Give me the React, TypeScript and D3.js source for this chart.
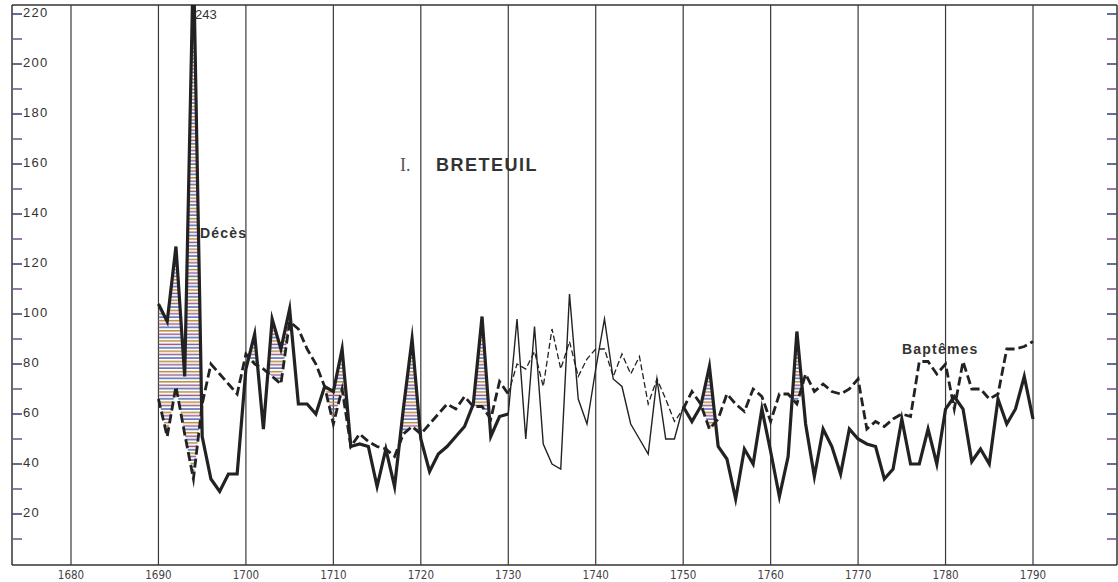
import React from 'react';
import * as d3 from 'd3';

// Breteuil: décès (deaths) and baptêmes (baptisms), 1690-1790
const years = d3.range(1690, 1791);

const deces = [
  104, 97, 127, 75, 243, 51, 34, 29, 36, 36,
  78, 92, 54, 98, 86, 102, 64, 64, 60, 71,
  69, 86, 47, 48, 47, 31, 46, 31, 62, 90,
  50, 37, 44, 47, 51, 55, 64, 99, 51, 59,
  60, 98, 50, 95, 48, 40, 38, 108, 66, 56,
  78, 98, 74, 71, 56, 50, 44, 74, 50, 50,
  63, 57, 63, 79, 47, 42, 26, 46, 40, 62,
  45, 27, 43, 93, 56, 35, 54, 47, 36, 54,
  50, 48, 47, 34, 38, 58, 40, 40, 54, 40,
  62, 67, 62, 41, 46, 40, 66, 56, 62, 75,
  58,
];

const baptemes = [
  66, 51, 71, 52, 34, 64, 80, 76, 72, 68,
  84, 80, 78, 75, 72, 97, 94, 86, 80, 71,
  56, 70, 47, 52, 49, 47, 46, 43, 52, 55,
  52, 56, 60, 64, 62, 67, 63, 63, 58, 73,
  68, 80, 78, 85, 71, 94, 78, 89, 75, 82,
  86, 86, 75, 84, 76, 83, 64, 74, 66, 57,
  62, 69, 64, 54, 58, 68, 64, 61, 70, 67,
  57, 68, 68, 64, 76, 69, 72, 69, 68, 70,
  74, 54, 57, 55, 58, 60, 59, 81, 81, 76,
  80, 62, 81, 70, 70, 66, 68, 86, 86, 87,
  89,
];

// years drawn with thin lines (gap in the registers)
const thinFrom = 1730;
const thinTo = 1750;

const decadeTicks = d3.range(1680, 1791, 10);
const valueTicks = d3.range(10, 221, 10);

const W = 1118;
const H = 582;
const frame = { left: 12, right: 1117, top: 5, bottom: 564 };

type Pt = { year: number; d: number; b: number };

const App = () => {
  const x = d3.scaleLinear().domain([1680, 1790]).range([71, 1033]);
  const y = d3.scaleLinear().domain([0, 220]).range([564, 14]);

  const pts: Pt[] = years.map((yr, i) => ({ year: yr, d: deces[i], b: baptemes[i] }));
  const before = pts.filter(p => p.year <= thinFrom);
  const middle = pts.filter(p => p.year >= thinFrom && p.year <= thinTo);
  const after = pts.filter(p => p.year >= thinTo);

  const lineD = d3.line<Pt>().x(p => x(p.year)).y(p => y(p.d));
  const lineB = d3.line<Pt>().x(p => x(p.year)).y(p => y(p.b));

  // area under deaths, clipped to the region above baptisms
  const areaD = d3.area<Pt>().x(p => x(p.year)).y0(y(0)).y1(p => y(p.d));
  const aboveB = d3.area<Pt>().x(p => x(p.year)).y0(frame.top - 50).y1(p => y(p.b));

  const ink = '#222';

  return (
    <svg width={W} height={H} style={{ position: 'absolute', left: 0, top: 0, background: '#fff' }}>
      <defs>
        <pattern id="hatch" patternUnits="userSpaceOnUse" width={8} height={10.2}>
          <line x1={0} x2={8} y1={1} y2={1} stroke="#4a6ab0" strokeWidth={1.5} />
          <line x1={0} x2={8} y1={4.4} y2={4.4} stroke="#b88a35" strokeWidth={1.5} />
          <line x1={0} x2={8} y1={7.8} y2={7.8} stroke="#9a5a8c" strokeWidth={1.5} />
        </pattern>
        <clipPath id="plot">
          <rect x={frame.left} y={frame.top} width={frame.right - frame.left} height={frame.bottom - frame.top} />
        </clipPath>
        <clipPath id="aboveB1">
          <path d={aboveB(before) ?? ''} />
        </clipPath>
        <clipPath id="aboveB2">
          <path d={aboveB(after) ?? ''} />
        </clipPath>
      </defs>

      {/* frame */}
      <line x1={frame.left} x2={frame.right} y1={frame.top} y2={frame.top} stroke="#333" strokeWidth={1.5} />
      <line x1={frame.left} x2={frame.right} y1={frame.bottom + 1} y2={frame.bottom + 1} stroke="#333" strokeWidth={1.5} />
      <line x1={frame.left} x2={frame.left} y1={frame.top} y2={frame.bottom + 1} stroke="#333" strokeWidth={1.5} />
      <line x1={frame.right} x2={frame.right} y1={frame.top} y2={frame.bottom + 1} stroke="#333" strokeWidth={1.5} />

      {/* decade lines */}
      {decadeTicks.map(t => (
        <g key={t}>
          <line x1={x(t)} x2={x(t)} y1={frame.top} y2={frame.bottom + 1} stroke="#3a3a3a" strokeWidth={1.2} />
          <text x={x(t)} y={579} textAnchor="middle" fontSize={11.5}
            fontFamily="'Liberation Sans Narrow', 'DejaVu Sans Condensed', sans-serif" fill="#444">{t}</text>
        </g>
      ))}

      {/* value ticks, left with labels, right without */}
      {valueTicks.map(v => {
        const major = v % 20 === 0;
        return (
          <g key={v}>
            <line x1={frame.left} x2={frame.left + 10} y1={y(v)} y2={y(v)}
              stroke={major ? '#3c4a78' : '#7a5a8a'} strokeWidth={1.6} />
            <line x1={frame.right - 10} x2={frame.right} y1={y(v)} y2={y(v)}
              stroke={major ? '#3c4a78' : '#7a5a8a'} strokeWidth={1.6} />
            {major && (
              <text x={frame.left + 11} y={y(v)} dominantBaseline="middle" fontSize={13}
                letterSpacing={1.3} fontFamily="'Liberation Sans', Arial, sans-serif" fill="#333">{v}</text>
            )}
          </g>
        );
      })}

      <g clipPath="url(#plot)">
        {/* hatched surplus of deaths */}
        <path d={areaD(before) ?? ''} fill="url(#hatch)" clipPath="url(#aboveB1)" />
        <path d={areaD(after) ?? ''} fill="url(#hatch)" clipPath="url(#aboveB2)" />

        {/* baptisms */}
        <path d={lineB(before) ?? ''} fill="none" stroke={ink} strokeWidth={2.8} strokeDasharray="9,4" strokeLinejoin="miter" strokeMiterlimit={10} />
        <path d={lineB(middle) ?? ''} fill="none" stroke={ink} strokeWidth={1.3} strokeDasharray="6,3" />
        <path d={lineB(after) ?? ''} fill="none" stroke={ink} strokeWidth={2.8} strokeDasharray="9,4" strokeLinejoin="miter" strokeMiterlimit={10} />

        {/* deaths */}
        <path d={lineD(before) ?? ''} fill="none" stroke={ink} strokeWidth={3.2} strokeLinejoin="miter" strokeMiterlimit={10} />
        <path d={lineD(middle) ?? ''} fill="none" stroke={ink} strokeWidth={1.4} strokeLinejoin="miter" strokeMiterlimit={10} />
        <path d={lineD(after) ?? ''} fill="none" stroke={ink} strokeWidth={3.2} strokeLinejoin="miter" strokeMiterlimit={10} />
      </g>

      {/* labels */}
      <text x={195} y={19} fontSize={13} fontFamily="'Liberation Sans', Arial, sans-serif" fill="#333">{deces[4]}</text>
      <text x={200} y={238} fontSize={14} fontWeight="bold" letterSpacing={1.2}
        fontFamily="'Liberation Sans', Arial, sans-serif" fill="#333">Décès</text>
      <text x={902} y={354} fontSize={14} fontWeight="bold" letterSpacing={1.2}
        fontFamily="'Liberation Sans', Arial, sans-serif" fill="#333">Baptêmes</text>
      <text x={400} y={171} fontSize={18} fontFamily="'Liberation Serif', serif" fill="#555">I.</text>
      <text x={436} y={171} fontSize={18} fontWeight="bold" letterSpacing={1.5}
        fontFamily="'Liberation Sans', Arial, sans-serif" fill="#333">BRETEUIL</text>
    </svg>
  );
};

export default App;
